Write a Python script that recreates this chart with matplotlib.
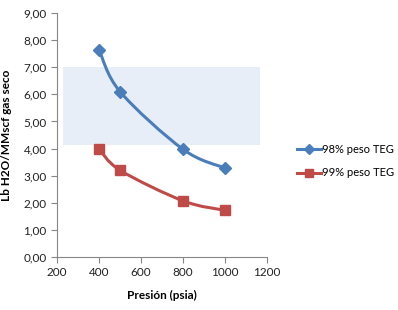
import numpy as np
import matplotlib
matplotlib.use("Agg")
import matplotlib.pyplot as plt
from matplotlib.path import Path
from matplotlib.patches import PathPatch, Rectangle
from matplotlib.ticker import FuncFormatter

plt.rcParams['font.family'] = ['Lato', 'DejaVu Sans']

presion = [400, 500, 800, 1000]
teg_98 = [7.65, 6.10, 3.97, 3.28]
teg_99 = [4.00, 3.20, 2.07, 1.72]
labels = ["98% peso TEG", "99% peso TEG"]
colors = ["#4a7ebb", "#be4b48"]

# shaded band (x0, x1, y0, y1)
band = (229, 1167, 4.12, 7.02)


def smooth_path(x, y, t=1 / 6):
    # Catmull-Rom style bezier through the data points, like Excel's smoothed lines
    x = np.asarray(x, float)
    y = np.asarray(y, float)
    verts = [(x[0], y[0])]
    codes = [Path.MOVETO]
    n = len(x)
    for i in range(n - 1):
        p0 = i - 1 if i > 0 else i
        p3 = i + 2 if i + 2 < n else i + 1
        c1 = (x[i] + (x[i + 1] - x[p0]) * t, y[i] + (y[i + 1] - y[p0]) * t)
        c2 = (x[i + 1] - (x[p3] - x[i]) * t, y[i + 1] - (y[p3] - y[i]) * t)
        verts += [c1, c2, (x[i + 1], y[i + 1])]
        codes += [Path.CURVE4] * 3
    return Path(verts, codes)


fig = plt.figure(figsize=(3.98, 3.10), dpi=100)
ax = fig.add_axes([0.1432, 0.171, 0.528, 0.787])

ax.add_patch(Rectangle((band[0], band[2]), band[1] - band[0], band[3] - band[2],
                       facecolor="#e8eef7", edgecolor="none", zorder=0))

for ys, c, m, ms, lab in [(teg_98, colors[0], "D", 6, labels[0]),
                          (teg_99, colors[1], "s", 7, labels[1])]:
    ax.add_patch(PathPatch(smooth_path(presion, ys), facecolor="none",
                           edgecolor=c, lw=2.2, zorder=2, capstyle="round"))
    ax.plot(presion, ys, linestyle="none", marker=m, color=c, markersize=ms,
            zorder=3)
    ax.plot([], [], color=c, lw=2.2, marker=m, markersize=ms, label=lab)

ax.set_xlim(200, 1200)
ax.set_ylim(0, 9)
ax.set_xticks(range(200, 1201, 200))
ax.set_yticks(range(0, 10))
ax.yaxis.set_major_formatter(FuncFormatter(lambda v, p: f"{v:.2f}".replace(".", ",")))

for s in ["top", "right"]:
    ax.spines[s].set_visible(False)
for s in ["left", "bottom"]:
    ax.spines[s].set_color("#868686")
    ax.spines[s].set_linewidth(0.8)
ax.tick_params(axis="both", colors="#868686", labelcolor="#222222",
               labelsize=8.5, length=4, width=0.8)

ax.set_xlabel("Presión (psia)", fontsize=8.5, fontweight="bold", labelpad=8)
ax.set_ylabel("Lb H2O/MMscf gas seco", fontsize=8.5, fontweight="bold", labelpad=8)

leg = ax.legend(loc="center left", bbox_to_anchor=(1.12, 0.393), frameon=False,
                fontsize=8, handlelength=2.2, handletextpad=0.1,
                labelspacing=1.15, markerscale=0.85, borderaxespad=0)

fig.savefig("out.png", dpi=100)
